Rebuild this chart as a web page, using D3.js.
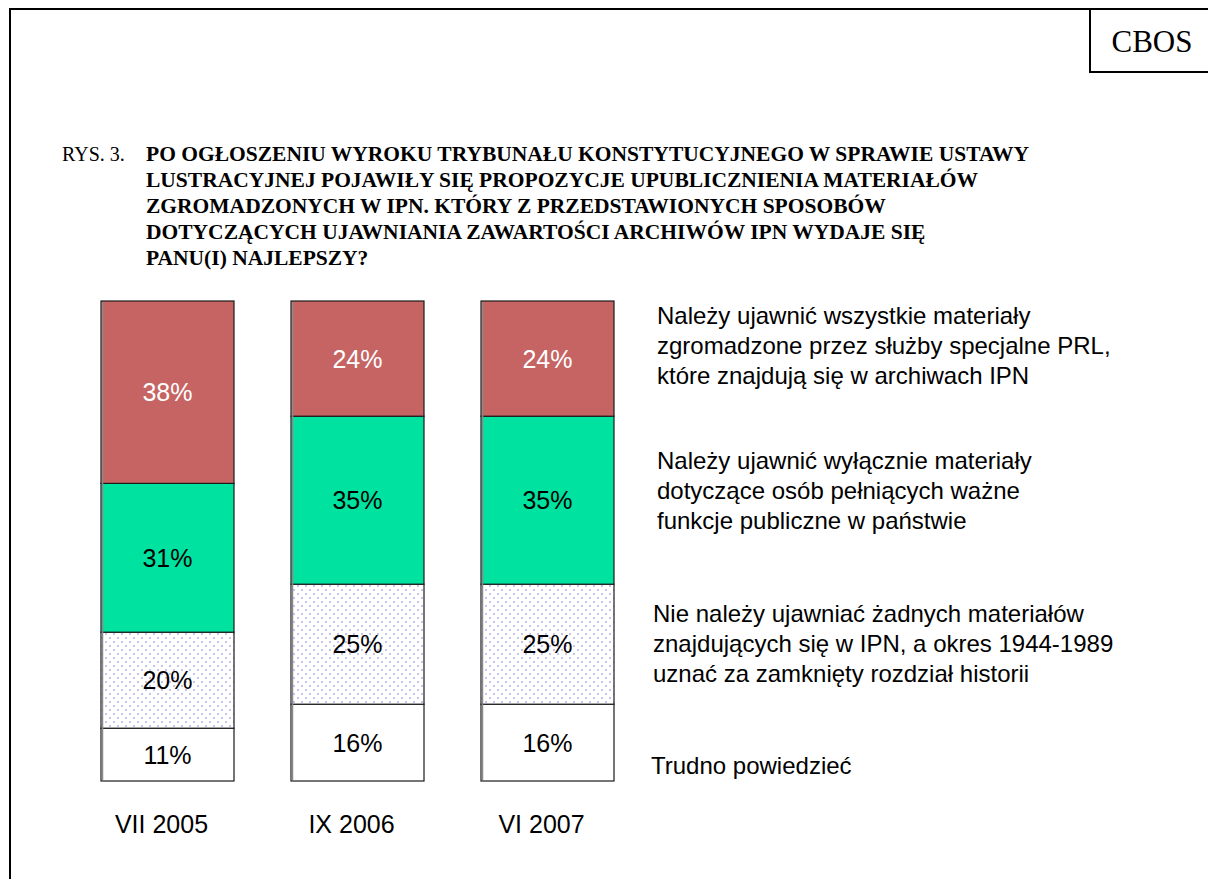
<!DOCTYPE html>
<html>
<head>
<meta charset="utf-8">
<script src="https://cdn.jsdelivr.net/npm/d3@7"></script>
<style>
  body { margin: 0; background: #fff; }
  svg { display: block; }
</style>
</head>
<body>
<svg id="chart"></svg>
<script>
let width = 1208;
let height = 879;

// data
let periods = ['VII 2005', 'IX 2006', 'VI 2007'];
let answers = ['wszystkie', 'wylacznie', 'zadne', 'trudno'];
let wszystkie = [38, 24, 24];
let wylacznie = [31, 35, 35];
let zadne = [20, 25, 25];
let trudno = [11, 16, 16];

let answerColors = ['#c66464', '#00e2a0', 'url(#dots)', '#ffffff'];
let labelColors = ['#ffffff', '#000000', '#000000', '#000000'];

let legendLines = [
    ['Należy ujawnić wszystkie materiały', 'zgromadzone przez służby specjalne PRL,', 'które znajdują się w archiwach IPN'],
    ['Należy ujawnić wyłącznie materiały', 'dotyczące osób pełniących ważne', 'funkcje publiczne w państwie'],
    ['Nie należy ujawniać żadnych materiałów', 'znajdujących się w IPN, a okres 1944-1989', 'uznać za zamknięty rozdział historii'],
    ['Trudno powiedzieć']
];

let titleLines = [
    'PO OGŁOSZENIU WYROKU TRYBUNAŁU KONSTYTUCYJNEGO W SPRAWIE USTAWY',
    'LUSTRACYJNEJ POJAWIŁY SIĘ PROPOZYCJE UPUBLICZNIENIA MATERIAŁÓW',
    'ZGROMADZONYCH W IPN. KTÓRY Z PRZEDSTAWIONYCH SPOSOBÓW',
    'DOTYCZĄCYCH UJAWNIANIA ZAWARTOŚCI ARCHIWÓW IPN WYDAJE SIĘ',
    'PANU(I) NAJLEPSZY?'
];

let table = periods.map((p, i) => ({
    period: p,
    wszystkie: wszystkie[i],
    wylacznie: wylacznie[i],
    zadne: zadne[i],
    trudno: trudno[i]
}));

let svg = d3.select('#chart')
    .attr('width', width)
    .attr('height', height);

// dotted fill
let pattern = svg.append('defs').append('pattern')
    .attr('id', 'dots')
    .attr('patternUnits', 'userSpaceOnUse')
    .attr('width', 8)
    .attr('height', 8);
pattern.append('rect').attr('width', 8).attr('height', 8).attr('fill', '#ffffff');
pattern.append('rect').attr('x', 1).attr('y', 1).attr('width', 2).attr('height', 2).attr('fill', '#c4c4ee');
pattern.append('rect').attr('x', 5).attr('y', 5).attr('width', 2).attr('height', 2).attr('fill', '#c4c4ee');

let serif = '"Liberation Serif", "Times New Roman", serif';
let sans = '"Liberation Sans", Arial, sans-serif';

// page frame + CBOS box
svg.append('rect')
    .attr('x', 10).attr('y', 9)
    .attr('width', 1220).attr('height', 900)
    .attr('fill', 'none').attr('stroke', '#000').attr('stroke-width', 2);

svg.append('rect')
    .attr('x', 1090).attr('y', 9)
    .attr('width', 140).attr('height', 63)
    .attr('fill', '#fff').attr('stroke', '#000').attr('stroke-width', 2);

svg.append('text')
    .attr('x', 1152).attr('y', 52)
    .attr('text-anchor', 'middle')
    .attr('font-family', serif)
    .attr('font-size', 31)
    .text('CBOS');

// title
svg.append('text')
    .attr('x', 62).attr('y', 161)
    .attr('font-family', serif)
    .attr('font-size', 20)
    .text('RYS. 3.');

svg.append('g')
    .selectAll('text')
    .data(titleLines)
    .join('text')
    .attr('x', 146)
    .attr('y', (d, i) => 161 + i * 26)
    .attr('font-family', serif)
    .attr('font-weight', 'bold')
    .attr('font-size', 21.5)
    .text(d => d);

// scales
let x = d3.scaleBand()
    .domain(periods)
    .range([101, 614])
    .paddingInner(0.3)
    .paddingOuter(0);

let y = d3.scaleLinear()
    .domain([0, 100])
    .range([781, 301]);

let stack = d3.stack()
    .keys(answers.slice().reverse())(table);

let layers = svg.append('g')
    .selectAll('g')
    .data(stack)
    .join('g')
    .attr('fill', d => answerColors[answers.indexOf(d.key)]);

layers.selectAll('rect')
    .data(d => d)
    .join('rect')
    .attr('x', d => x(d.data.period))
    .attr('y', d => y(d[1]))
    .attr('width', x.bandwidth())
    .attr('height', d => y(d[0]) - y(d[1]))
    .attr('stroke', '#1a1a1a')
    .attr('stroke-width', 1.2);

// grey shade on the left edge of each bar
svg.append('g')
    .selectAll('line')
    .data(periods)
    .join('line')
    .attr('x1', d => x(d) + 1.5)
    .attr('x2', d => x(d) + 1.5)
    .attr('y1', y(100) + 1)
    .attr('y2', y(0) - 1)
    .attr('stroke', '#8a8a8a')
    .attr('stroke-width', 1.5);

layers.each(function (layer) {
    let k = answers.indexOf(layer.key);
    d3.select(this).selectAll('text')
        .data(layer)
        .join('text')
        .attr('x', d => x(d.data.period) + x.bandwidth() / 2)
        .attr('y', d => (y(d[0]) + y(d[1])) / 2)
        .attr('dy', '0.36em')
        .attr('text-anchor', 'middle')
        .attr('font-family', sans)
        .attr('font-size', 25)
        .attr('fill', labelColors[k])
        .text(d => (d[1] - d[0]) + '%');
});

// category labels
svg.append('g')
    .selectAll('text')
    .data(periods)
    .join('text')
    .attr('x', d => x(d) + x.bandwidth() / 2 - 6)
    .attr('y', 833)
    .attr('text-anchor', 'middle')
    .attr('font-family', sans)
    .attr('font-size', 25)
    .text(d => d);

// legend
let legendX = [657, 657, 653, 651];
let legendTop = [315, 460, 613, 765];
let legend = svg.append('g')
    .selectAll('g')
    .data(legendLines)
    .join('g');

legend.each(function (lines, gi) {
    d3.select(this).selectAll('text')
        .data(lines)
        .join('text')
        .attr('x', legendX[gi])
        .attr('y', (d, i) => legendTop[gi] + i * 30)
        .attr('dy', '0.36em')
        .attr('font-family', sans)
        .attr('font-size', 24)
        .text(d => d);
});
</script>
</body>
</html>
